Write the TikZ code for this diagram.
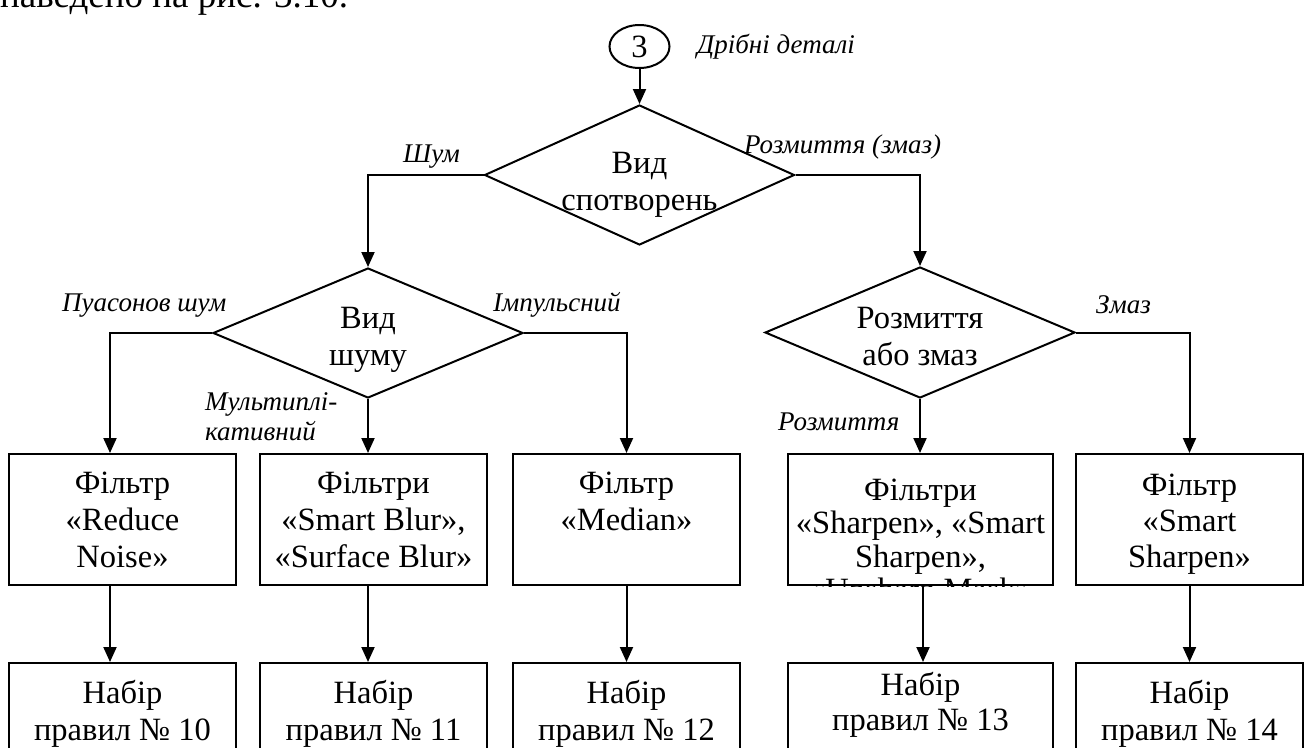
\documentclass[tikz,border=0pt]{standalone}
\usepackage{fontspec}
\setmainfont{Liberation Serif}
\usetikzlibrary{shapes.geometric,arrows.meta}
\begin{document}
\begin{tikzpicture}[x=1pt,y=-1pt,
  ln/.style={line width=2pt},
  arr/.style={ln,-{Triangle[length=15pt,width=13pt]}},
  box/.style={draw,line width=2pt,minimum height=131pt,inner sep=0pt},
  dia/.style={draw,diamond,line width=2pt,inner sep=0pt,minimum width=310pt},
  txt/.style={font=\fontsize{32.5}{37}\selectfont,align=center,anchor=base,inner sep=0pt},
  lbl/.style={font=\fontsize{27}{30}\selectfont\itshape,anchor=base west,inner sep=0pt,align=left},
]
\useasboundingbox (0,0) rectangle (1308,747);
\clip (0,0) rectangle (1308,747);

\node[anchor=base west,inner sep=0pt,font=\fontsize{37}{44}\selectfont] (top) at (0,7) {наведено на рис. 3.10.};

% start circle
\node[draw,ellipse,line width=2pt,minimum width=60pt,minimum height=43pt,inner sep=0pt,font=\fontsize{32.5}{37}\selectfont] (c0) at (639.5,46.5) {3};

% decisions
\node[dia,minimum height=140pt] (d1) at (639.5,175) {};
\node[dia,minimum height=130pt] (d2) at (368,333) {};
\node[dia,minimum height=131pt] (d3) at (920,332.5) {};
\node[txt] (d1t) at (639.5,210) {Вид\\спотворень};
\node[txt] (d2t) at (368,365) {Вид\\шуму};
\node[txt] (d3t) at (920,365) {Розмиття\\або змаз};

% filter boxes
\node[box,minimum width=227pt] (f1) at (122.5,519.5) {};
\node[box,minimum width=227pt] (f2) at (373.5,519.5) {};
\node[box,minimum width=227pt] (f3) at (626.5,519.5) {};
\node[box,minimum width=265pt] (f4) at (920.5,519.5) {};
\node[box,minimum width=227pt] (f5) at (1189.5,519.5) {};
\node[txt] (f1t) at (122.5,567) {Фільтр\\«Reduce\\Noise»};
\node[txt] (f2t) at (373.5,567) {Фільтри\\«Smart Blur»,\\«Surface Blur»};
\node[txt] (f3t) at (626.5,530) {Фільтр\\«Median»};
\begin{scope}
\clip (f4.north west) rectangle (f4.south east);
\node[txt,font=\fontsize{32.5}{33.5}\selectfont] (f4t) at (920.5,600.5) {Фільтри\\«Sharpen», «Smart\\Sharpen»,\\«Unsharp Mask»};
\end{scope}
\node[txt,font=\fontsize{32.5}{36}\selectfont] (f5t) at (1189.5,567) {Фільтр\\«Smart\\Sharpen»};

% rule boxes
\node[box,minimum width=227pt] (g1) at (122.5,728.5) {};
\node[box,minimum width=227pt] (g2) at (373.5,728.5) {};
\node[box,minimum width=227pt] (g3) at (626.5,728.5) {};
\node[box,minimum width=265pt] (g4) at (920.5,728.5) {};
\node[box,minimum width=227pt] (g5) at (1189.5,728.5) {};
\node[txt] (g1t) at (122.5,740) {Набір\\правил № 10};
\node[txt] (g2t) at (373.5,740) {Набір\\правил № 11};
\node[txt] (g3t) at (626.5,740) {Набір\\правил № 12};
\node[txt,font=\fontsize{32.5}{35}\selectfont] (g4t) at (920.5,730) {Набір\\правил № 13};
\node[txt] (g5t) at (1189.5,740) {Набір\\правил № 14};

% connectors
\draw[arr] (c0.south) -- (d1.north);
\draw[arr] (d1.west) -| (d2.north);
\draw[arr] (d1.east) -| (d3.north);
\draw[arr] (d2.west) -| ([xshift=-12.5pt]f1.north);
\draw[arr] (d2.south) -- (d2.south |- f2.north);
\draw[arr] (d2.east) -| (f3.north);
\draw[arr] (d3.south) -- (d3.south |- f4.north);
\draw[arr] (d3.east) -| (f5.north);
\draw[arr] ([xshift=-12.5pt]f1.south) -- ([xshift=-12.5pt]g1.north);
\draw[arr] ([xshift=-5.5pt]f2.south) -- ([xshift=-5.5pt]g2.north);
\draw[arr] (f3.south) -- (g3.north);
\draw[arr] ([xshift=2.5pt]f4.south) -- ([xshift=2.5pt]g4.north);
\draw[arr] (f5.south) -- (g5.north);

% labels
\node[lbl] (l0) at (697,53) {Дрібні деталі};
\node[lbl] (l1) at (403,162) {Шум};
\node[lbl] (l2) at (744,153) {Розмиття (змаз)};
\node[lbl] (l3) at (62,311) {Пуасонов шум};
\node[lbl] (l4) at (493,311) {Імпульсний};
\node[lbl] (l5) at (205,440) {Мультиплі-\\кативний};
\node[lbl] (l6) at (778,430) {Розмиття};
\node[lbl] (l7) at (1096,313) {Змаз};
\end{tikzpicture}
\end{document}
